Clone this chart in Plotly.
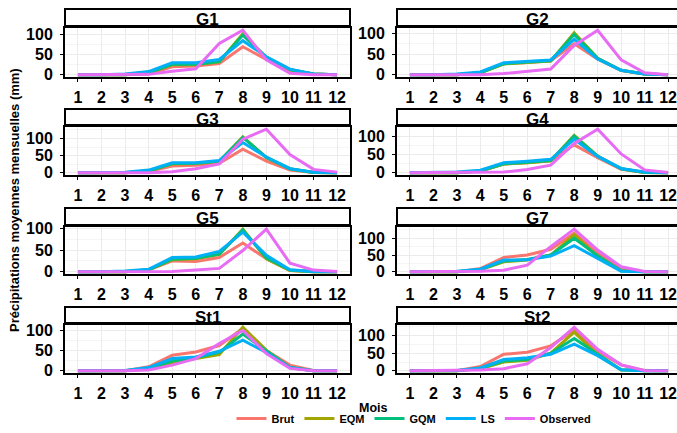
import plotly.graph_objects as go

# ---------------- data ----------------
stations = ["G1", "G2", "G3", "G4", "G5", "G7", "St1", "St2"]
months = list(range(1, 13))
month_labels = [str(m) for m in months]
series_names = ["Brut", "EQM", "GQM", "LS", "Observed"]
y_ticks = [0, 50, 100]

brut = {
    "G1": [0, 0, 0, 2, 20, 22, 28, 70, 38, 10, 2, 0],
    "G2": [0, 0, 0, 5, 27, 30, 34, 75, 38, 10, 2, 0],
    "G3": [0, 0, 0, 4, 20, 22, 28, 69, 34, 8, 1, 0],
    "G4": [0, 0, 0, 5, 24, 28, 33, 77, 42, 10, 1, 0],
    "G5": [0, 0, 0, 4, 25, 24, 33, 66, 30, 3, 0, 0],
    "G7": [0, 0, 0, 10, 43, 50, 67, 115, 55, 10, 0, 0],
    "St1": [0, 0, 0, 10, 38, 46, 62, 104, 50, 14, 1, 0],
    "St2": [0, 0, 0, 12, 47, 53, 71, 115, 55, 17, 0, 0],
}
eqm = {
    "G1": [0, 0, 0, 5, 25, 25, 32, 102, 42, 12, 2, 0],
    "G2": [0, 0, 0, 5, 26, 30, 33, 102, 40, 11, 2, 0],
    "G3": [0, 0, 0, 5, 26, 27, 33, 105, 44, 11, 1, 0],
    "G4": [0, 0, 0, 5, 24, 28, 33, 103, 46, 11, 1, 0],
    "G5": [0, 0, 0, 5, 28, 30, 40, 98, 30, 3, 0, 0],
    "G7": [0, 0, 0, 6, 30, 35, 50, 110, 45, 3, 0, 0],
    "St1": [0, 0, 0, 5, 20, 30, 40, 107, 50, 8, 0, 0],
    "St2": [0, 0, 0, 6, 25, 30, 50, 110, 45, 2, 0, 0],
}
gqm = {
    "G1": [0, 0, 0, 5, 26, 26, 33, 99, 44, 13, 2, 0],
    "G2": [0, 0, 0, 5, 27, 31, 34, 98, 40, 11, 2, 0],
    "G3": [0, 0, 0, 5, 27, 28, 34, 103, 45, 12, 1, 0],
    "G4": [0, 0, 0, 5, 25, 29, 34, 101, 46, 11, 1, 0],
    "G5": [0, 0, 0, 5, 29, 31, 41, 96, 32, 4, 0, 0],
    "G7": [0, 0, 0, 7, 32, 37, 50, 100, 48, 3, 0, 0],
    "St1": [0, 0, 0, 6, 24, 32, 45, 90, 50, 8, 0, 0],
    "St2": [0, 0, 0, 7, 28, 32, 50, 92, 47, 3, 0, 0],
}
ls = {
    "G1": [0, 0, 2, 8, 30, 30, 38, 85, 45, 14, 2, 0],
    "G2": [0, 0, 2, 7, 29, 32, 36, 86, 38, 11, 2, 0],
    "G3": [0, 0, 2, 8, 29, 29, 36, 88, 46, 12, 2, 0],
    "G4": [0, 0, 2, 7, 28, 32, 37, 92, 45, 12, 2, 0],
    "G5": [0, 0, 2, 6, 33, 34, 47, 91, 38, 5, 1, 0],
    "G7": [0, 0, 2, 8, 35, 36, 47, 78, 40, 2, 0, 0],
    "St1": [0, 0, 1, 8, 30, 34, 48, 75, 45, 8, 0, 0],
    "St2": [0, 0, 1, 8, 32, 37, 47, 76, 43, 3, 0, 0],
}
observed = {
    "G1": [0, 0, 0, 1, 9, 15, 78, 111, 37, 4, 0, 0],
    "G2": [0, 0, 0, 0, 3, 8, 14, 71, 108, 36, 5, 0],
    "G3": [0, 0, 0, 0, 3, 12, 26, 98, 127, 53, 10, 2],
    "G4": [0, 0, 0, 0, 2, 9, 21, 81, 120, 52, 8, 1],
    "G5": [0, 0, 0, 0, 1, 4, 8, 49, 98, 20, 4, 1],
    "G7": [0, 0, 0, 2, 5, 20, 75, 127, 65, 15, 1, 0],
    "St1": [0, 0, 0, 2, 14, 30, 67, 99, 42, 6, 0, 0],
    "St2": [0, 0, 0, 2, 6, 20, 66, 124, 61, 17, 1, 0],
}

# ---------------- styling ----------------
series_data = [brut, eqm, gqm, ls, observed]
colors = ["#F8766D", "#A3A500", "#00BF7D", "#00B0F6", "#E76BF3"]
FONT = "Liberation Sans, Arial, sans-serif"
W, H = 677, 433


def px(x):
    return x / W


def py(y):
    return 1 - y / H


col_px = [(65, 350), (397, 677)]
col_xrange = [[0.45, 12.55], [0.45, 12.38]]
# (plot top, plot bottom, strip top)
row_px = [(28, 77, 9), (127, 175, 109), (227, 274, 208), (325, 373, 307)]

fig = go.Figure()
shapes = []
annotations = []

for i, st in enumerate(stations):
    r, c = divmod(i, 2)
    n = "" if i == 0 else str(i + 1)
    xa, ya = "x" + n, "y" + n
    x0, x1 = col_px[c]
    top, bot, stop = row_px[r]

    for k, (name, data) in enumerate(zip(series_names, series_data)):
        fig.add_trace(go.Scatter(
            x=months, y=data[st], mode="lines", name=name,
            line=dict(color=colors[k], width=3),
            xaxis=xa, yaxis=ya, legendgroup=name,
            showlegend=(i == 0),
        ))

    m = max(max(d[st]) for d in series_data)
    yr = [-0.05 * m, 1.05 * m]
    tickfont = dict(family=FONT, size=16, color="black", weight="bold")

    fig.layout["xaxis" + n] = dict(
        domain=[px(x0), px(x1)], anchor=ya, range=col_xrange[c],
        tickvals=months, ticktext=month_labels, tickfont=tickfont,
        showgrid=True, gridcolor="#EBEBEB", gridwidth=1,
        showline=True, linecolor="black", linewidth=2, mirror=True,
        ticks="outside", ticklen=3, tickcolor="black",
        ticklabeloverflow="allow", ticklabelstandoff=2,
        zeroline=False, fixedrange=True, automargin=False,
    )
    fig.layout["yaxis" + n] = dict(
        domain=[py(bot), py(top)], anchor=xa, range=yr,
        tickvals=y_ticks, tickfont=tickfont,
        showgrid=True, gridcolor="#EBEBEB", gridwidth=1,
        minor=dict(tickvals=[25, 75, 125], showgrid=True,
                   gridcolor="#F5F5F5", gridwidth=1),
        showline=True, linecolor="black", linewidth=2,
        mirror=(c == 0),
        ticks="outside", ticklen=3, tickcolor="black",
        ticklabelstandoff=4,
        zeroline=False, fixedrange=True, automargin=False,
    )

    # strip
    sx1 = x1 if c == 0 else x1 + 10
    shapes.append(dict(type="rect", xref="paper", yref="paper",
                       x0=px(x0), x1=px(sx1), y0=py(top - 1), y1=py(stop),
                       line=dict(color="black", width=2), fillcolor="white",
                       layer="above"))
    shapes.append(dict(type="line", xref="paper", yref="paper",
                       x0=px(x0), x1=px(sx1), y0=py(top - 1.5), y1=py(top - 1.5),
                       line=dict(color="black", width=3), layer="above"))
    annotations.append(dict(
        text=st, xref="paper", yref="paper",
        x=px((x0 + x1) / 2), y=py((stop + top) / 2 + 1),
        xanchor="center", yanchor="middle", showarrow=False,
        font=dict(family=FONT, size=17, color="black", weight="bold"),
    ))

annotations.append(dict(
    text="Précipitations moyennes mensuelles (mm)", xref="paper", yref="paper",
    x=px(15), y=py(200), textangle=-90, showarrow=False,
    xanchor="center", yanchor="middle",
    font=dict(family=FONT, size=13, color="black", weight="bold"),
))
annotations.append(dict(
    text="Mois", xref="paper", yref="paper",
    x=px(373), y=py(408), showarrow=False,
    xanchor="center", yanchor="middle",
    font=dict(family=FONT, size=12.5, color="black", weight="bold"),
))

fig.update_layout(
    width=W, height=H,
    margin=dict(l=0, r=0, t=0, b=0),
    paper_bgcolor="white", plot_bgcolor="white",
    shapes=shapes, annotations=annotations,
    showlegend=True,
    legend=dict(orientation="h", x=px(414), xanchor="center",
                y=0, yanchor="bottom",
                font=dict(family=FONT, size=11, color="black", weight="bold"),
                bgcolor="rgba(0,0,0,0)", itemwidth=30, tracegroupgap=0),
)

fig.write_html(
    "out.html",
    config={"displayModeBar": False},
    post_script="document.body.style.margin='0';document.body.style.overflow='hidden';",
)
